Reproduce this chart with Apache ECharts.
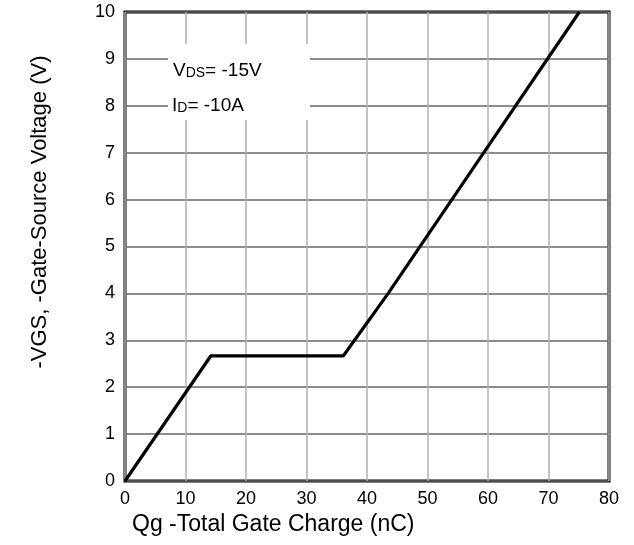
<!DOCTYPE html>
<html><head><meta charset="utf-8">
<script src="https://cdn.jsdelivr.net/npm/echarts@6/dist/echarts.min.js"></script>
<style>html,body{margin:0;padding:0;background:#fff}#c{width:634px;height:545px}</style>
</head><body><div id="c"></div>
<script>
const chargeNC = [0, 14.2, 36.1, 43.5, 59.3, 75.1];
const vgsV = [0, 2.67, 2.67, 4.0, 7.0, 10.0];
const xTicks = [0, 10, 20, 30, 40, 50, 60, 70, 80];
const yTicks = [0, 1, 2, 3, 4, 5, 6, 7, 8, 9, 10];
const xTitle = 'Qg -Total Gate Charge (nC)';
const yTitle = '-VGS, -Gate-Source Voltage (V)';
const noteVds = ['V', 'DS', '= -15V'];
const noteId = ['I', 'D', '= -10A'];

const font = 'Liberation Sans, Arial, sans-serif';
const rich = {
  m: {fontSize: 19, fontFamily: font, fill: '#000', lineHeight: 22, verticalAlign: 'bottom'},
  s: {fontSize: 14, fontFamily: font, fill: '#000', lineHeight: 22, padding: [9, 0, 0, 0], verticalAlign: 'bottom'}
};
const chart = echarts.init(document.getElementById('c'));
chart.setOption({
  animation: false,
  grid: {left: 125, right: 25, top: 12, bottom: 64, show: true, borderColor: '#000', borderWidth: 3, backgroundColor: 'transparent'},
  xAxis: {
    type: 'value', min: xTicks[0], max: xTicks[xTicks.length-1], interval: 10,
    axisLine: {show: false}, axisTick: {show: false},
    axisLabel: {color: '#000', fontSize: 18, fontFamily: font, margin: 9},
    splitLine: {show: true, lineStyle: {color: '#b0b0b0', width: 1.5}}
  },
  yAxis: {
    type: 'value', min: yTicks[0], max: yTicks[yTicks.length-1], interval: 1,
    axisLine: {show: false}, axisTick: {show: false},
    axisLabel: {color: '#000', fontSize: 18, fontFamily: font, margin: 10},
    splitLine: {show: true, lineStyle: {color: '#666', width: 1.5}}
  },
  series: [{
    type: 'line', data: chargeNC.map((x, i) => [x, vgsV[i]]),
    showSymbol: false, clip: true,
    lineStyle: {color: '#000', width: 3.2}, z: 5
  }],
  graphic: [
    {type: 'rect', left: 168, top: 44, shape: {width: 142, height: 76}, style: {fill: '#fff'}, z: 3},
    {type: 'text', left: 173, top: 57, z: 4, style: {
      text: '{m|' + noteVds[0] + '}{s|' + noteVds[1] + '}{m|' + noteVds[2] + '}', rich: rich}},
    {type: 'text', left: 172, top: 92, z: 4, style: {
      text: '{m|' + noteId[0] + '}{s|' + noteId[1] + '}{m|' + noteId[2] + '}', rich: rich}},
    {type: 'text', left: 132, top: 513, style: {text: xTitle, fontSize: 23, fontFamily: font, fill: '#000'}},
    {type: 'text', x: 40, y: 212, rotation: Math.PI / 2, style: {
      text: yTitle, fontSize: 22, fontFamily: font, fill: '#000', align: 'center', verticalAlign: 'middle'}}
  ]
});
</script></body></html>
